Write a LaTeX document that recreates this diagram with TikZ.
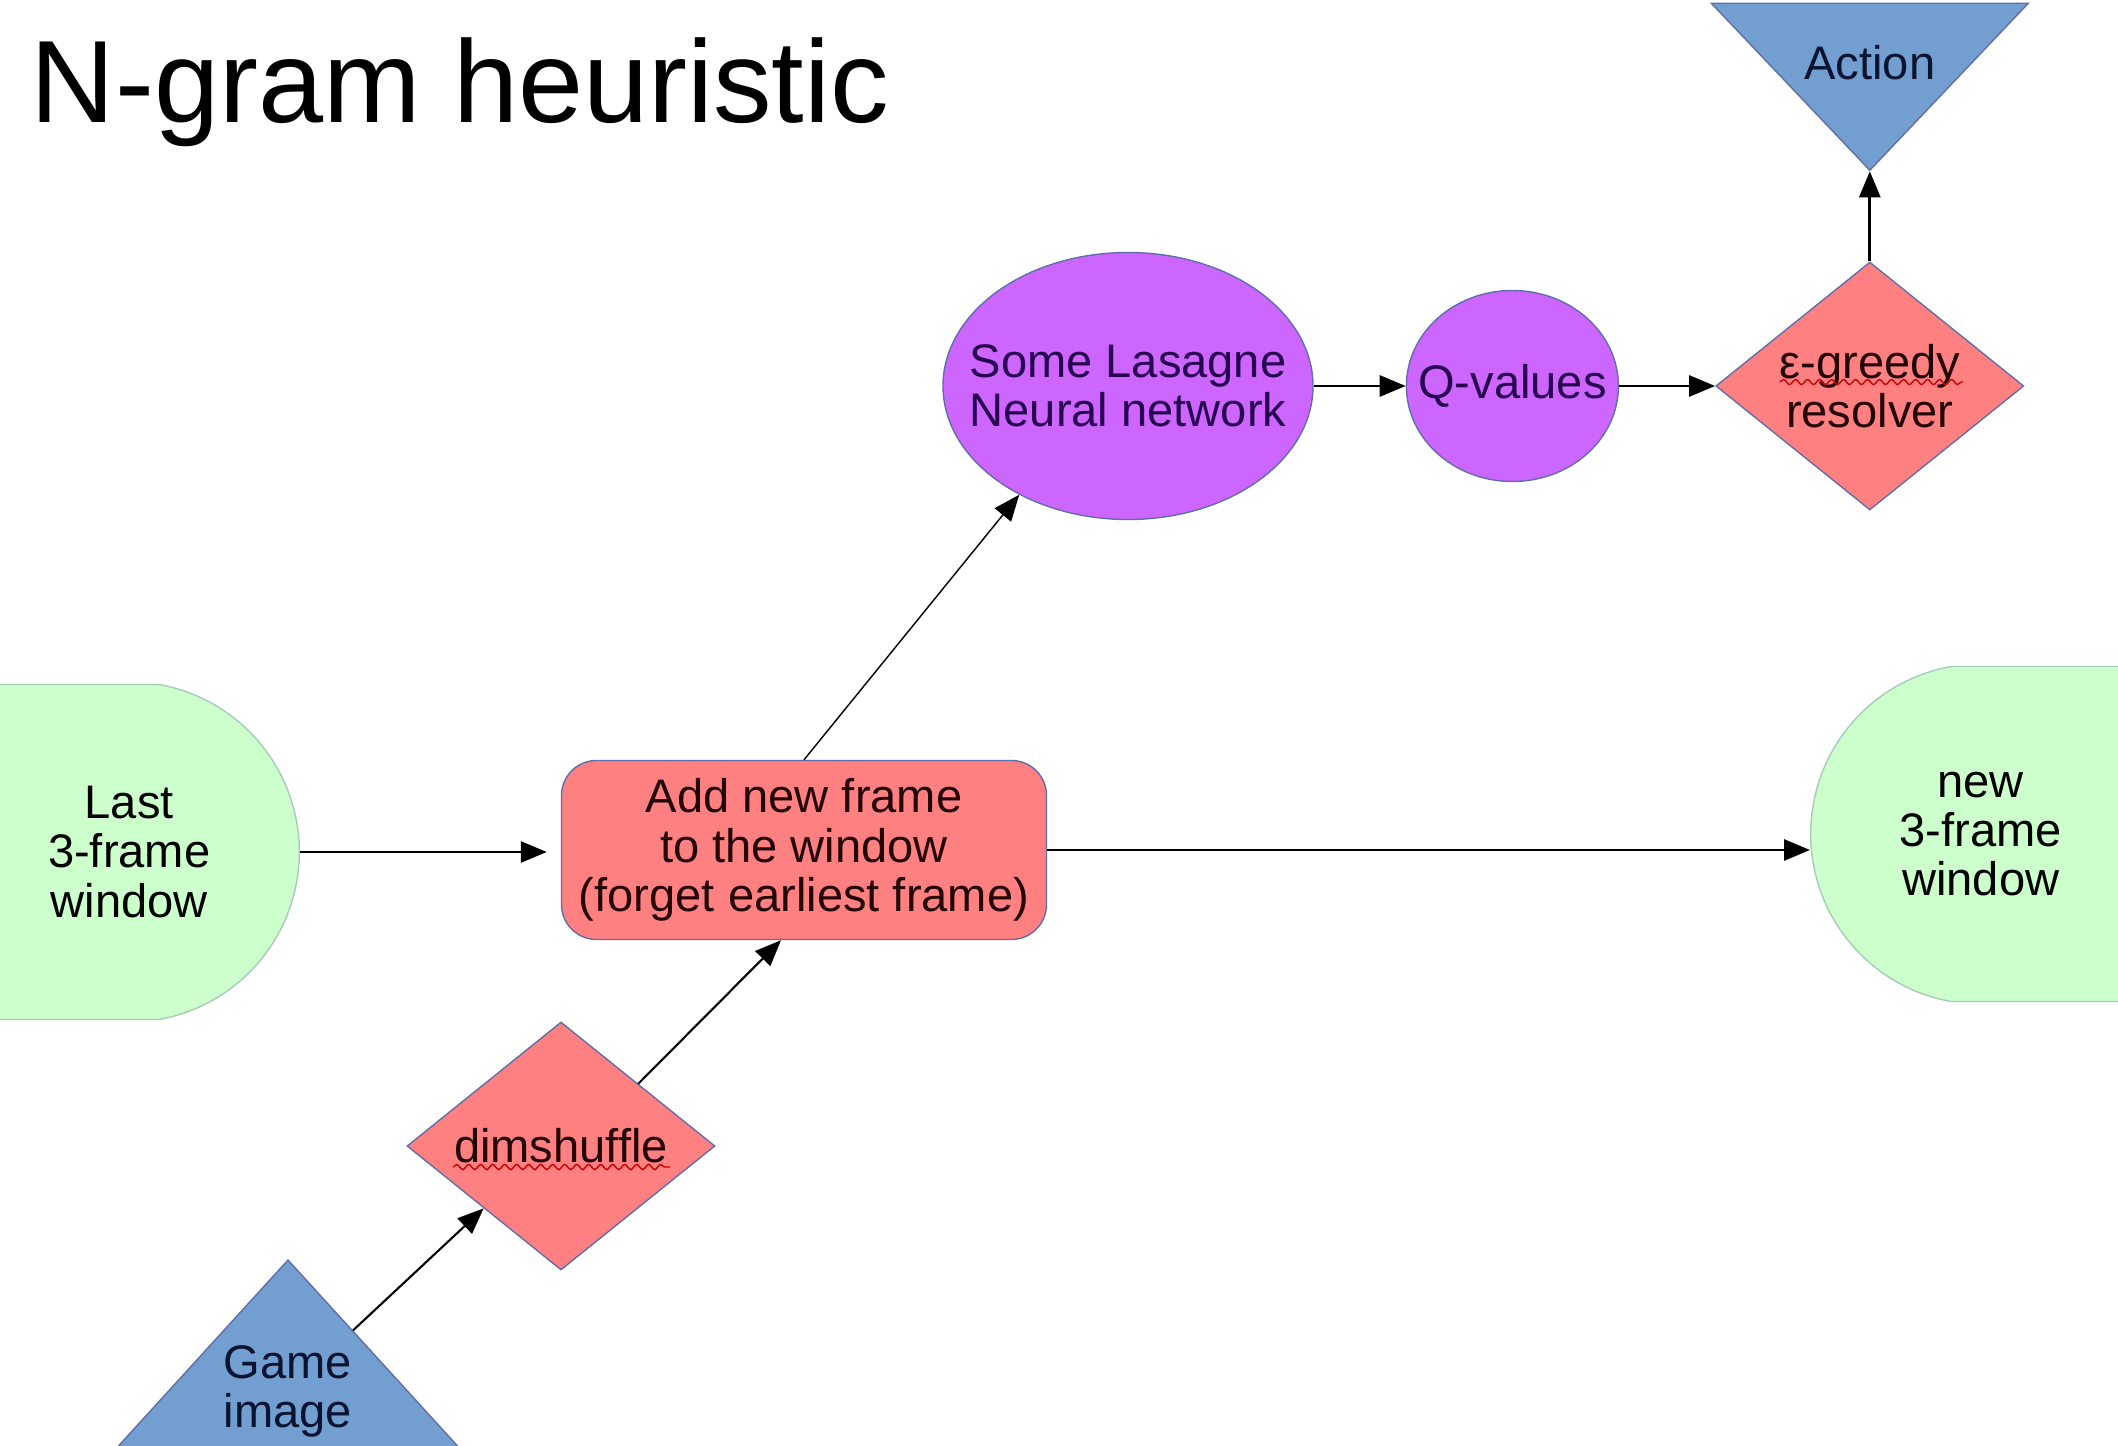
\documentclass[tikz,border=0pt]{standalone}
\usepackage{fontspec}
\setmainfont{Liberation Sans}
\usepackage{tikz}
\usetikzlibrary{positioning, shapes.geometric, shapes.misc, arrows.meta, decorations.pathmorphing}
\usepackage{xcolor}
\definecolor{salmon}{RGB}{255,128,128}
\definecolor{lilac}{RGB}{204,102,255}
\definecolor{mint}{RGB}{204,255,204}
\definecolor{skyblue}{RGB}{114,159,207}
\definecolor{edgeblue}{RGB}{98,110,170}
\definecolor{edgegreen}{RGB}{165,205,185}
\definecolor{inkred}{RGB}{35,5,5}
\definecolor{inkpurple}{RGB}{40,0,80}
\definecolor{inknavy}{RGB}{10,20,50}
\tikzstyle{window}   = [rounded rectangle, rounded rectangle arc length=160, minimum width=2.45cm, minimum height=3.35cm, align=center, draw=edgegreen, fill=mint]
\tikzstyle{process}  = [rectangle, rounded corners=0.35cm, minimum width=4.85cm, minimum height=1.79cm, align=center, draw=edgeblue, fill=salmon, text=inkred]
\tikzstyle{decision} = [diamond, aspect=1.25, minimum width=3.08cm, minimum height=2.48cm, inner sep=0pt, align=center, draw=edgeblue, fill=salmon, text=inkred]
\tikzstyle{network}  = [ellipse, inner xsep=-0.3cm, inner ysep=0pt, align=center, draw=edgeblue, fill=lilac, text=inkpurple]
\tikzstyle{terminal} = [isosceles triangle, isosceles triangle apex angle=85, isosceles triangle stretches, inner sep=0pt, align=center, draw=edgeblue, fill=skyblue, text=inknavy]
\tikzstyle{squiggle} = [red!80!black, decorate, decoration={snake, amplitude=0.25mm, segment length=1.2mm}]

\begin{document}
\begin{tikzpicture}[font=\fontsize{13.4}{14}\selectfont, >={Triangle[length=2.6mm, width=2.1mm]}]
            \useasboundingbox (0,0) rectangle (21.18,-14.46);
            \node[anchor=base west, inner sep=0pt, font=\fontsize{33.3}{40}\selectfont] (title) at (0.30,-1.22) {N-gram heuristic};

            \node[process]  (add)    at (8.04,-8.50) {Add new frame\\to the window\\(forget earliest frame)};
            \node[window, rounded rectangle left arc=none, anchor=east] (last) at (3.00,-8.52) {Last\\3-frame\\window};
            \node[window, rounded rectangle right arc=none, minimum width=2.68cm, anchor=west] (new) at (18.10,-8.34) {new\\3-frame\\window};
            \node[network, minimum width=3.70cm, minimum height=2.67cm] (nn) at (11.28,-3.86) {Some Lasagne\\Neural network};
            \node[network, minimum width=2.12cm, minimum height=1.91cm] (q) [right=0.92cm of nn] {Q-values};
            \node[decision] (eps)    [right=0.96cm of q] {ε-greedy\\resolver};
            \node[terminal, shape border rotate=270, minimum width=3.17cm, minimum height=1.67cm, text height=0.62cm] (action) [above=0.90cm of eps.north, anchor=apex] {Action};
            \node[decision] (dim)    at (5.61,-11.46) {dimshuffle};
            \node[terminal, shape border rotate=90, minimum width=3.41cm, minimum height=1.87cm] (game) at (2.88,-12.59) [anchor=apex] {Game\\image};

            \draw[->, thick] (last.east) -- (last.east -| add.west) [shorten >=0.14cm];
            \draw[->, thick] (add.east) -- (add.east -| new.west);
            \draw[->, thin] (add.north) -- (nn.225);
            \draw[->, thick] (nn) -- (q);
            \draw[->, thick] (q) -- (eps);
            \draw[->, thick] (eps.north) -- (action.apex);
            \draw[->, semithick] (game) -- (dim.south west);
            \draw[->, semithick] (dim.north east) -- ([xshift=-0.23cm]add.south);

            \draw[squiggle] ([xshift=-0.90cm, yshift=0.04cm]eps.center) -- ++(1.83,0);
            \draw[squiggle] ([xshift=-1.08cm, yshift=-0.21cm]dim.center) -- ++(2.17,0);
        \end{tikzpicture}
\end{document}
